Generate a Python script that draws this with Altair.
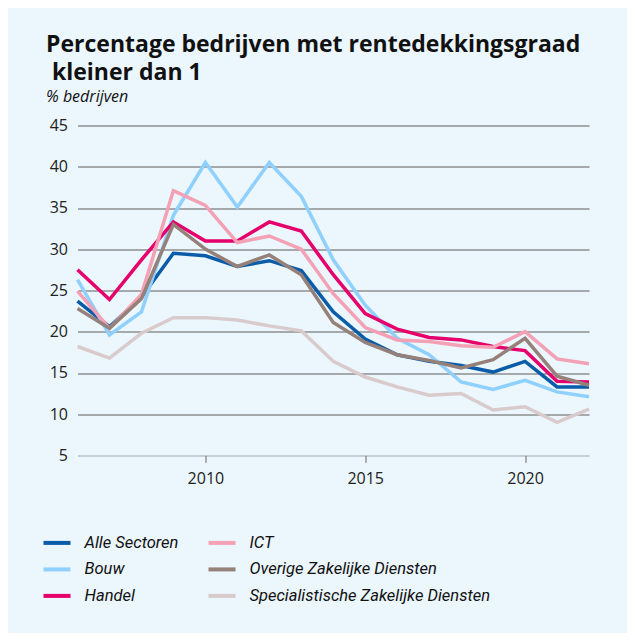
import altair as alt
import pandas as pd

years = list(range(2006, 2023))

alle_sectoren = [23.7, 20.6, 24.2, 29.5, 29.2, 27.9, 28.6, 27.4, 22.4, 19.1, 17.2, 16.4, 15.9, 15.1, 16.4, 13.3, 13.3]
bouw = [26.3, 19.6, 22.4, 34.1, 40.5, 35.1, 40.5, 36.4, 28.7, 23.2, 19.2, 17.2, 13.9, 13.0, 14.1, 12.7, 12.1]
handel = [27.5, 23.9, 28.7, 33.3, 31.0, 31.0, 33.3, 32.2, 26.9, 22.2, 20.3, 19.3, 19.0, 18.2, 17.7, 14.0, 13.9]
ict = [24.9, 20.4, 24.5, 37.1, 35.3, 30.8, 31.6, 30.0, 24.6, 20.5, 19.0, 18.8, 18.3, 18.1, 20.0, 16.7, 16.1]
overige = [22.8, 20.4, 24.0, 33.0, 30.0, 27.9, 29.3, 26.9, 21.1, 18.7, 17.2, 16.5, 15.6, 16.6, 19.2, 14.6, 13.5]
specialistische = [18.2, 16.8, 19.8, 21.7, 21.7, 21.4, 20.7, 20.1, 16.4, 14.5, 13.3, 12.3, 12.5, 10.5, 10.9, 9.0, 10.6]

series = {
    "Alle Sectoren": alle_sectoren,
    "Bouw": bouw,
    "Handel": handel,
    "ICT": ict,
    "Overige Zakelijke Diensten": overige,
    "Specialistische Zakelijke Diensten": specialistische,
}
colors = {
    "Alle Sectoren": "#0a5ca8",
    "Bouw": "#8fd0ff",
    "Handel": "#e5006b",
    "ICT": "#f4a0b5",
    "Overige Zakelijke Diensten": "#958179",
    "Specialistische Zakelijke Diensten": "#d9cbcb",
}
legend_order = list(series.keys())
y_ticks = [5, 10, 15, 20, 25, 30, 35, 40, 45]
x_ticks = [2010, 2015, 2020]

rows = []
for name, vals in series.items():
    for y, v in zip(years, vals):
        rows.append({"jaar": y, "waarde": v, "sector": name})
df = pd.DataFrame(rows)

W, H = 511.5, 330
PL, PT = 69.5, 117.4
TOTAL_W, TOTAL_H = 619, 625

chart = alt.Chart(df).mark_line(strokeWidth=3.5, strokeJoin="miter").encode(
    x=alt.X("jaar:Q", scale=alt.Scale(domain=[2006, 2022], nice=False, zero=False),
            axis=alt.Axis(values=x_ticks, format="d", title=None, grid=False,
                          domain=False, ticks=True, tickSize=7, tickColor="#666666",
                          tickWidth=1, labelPadding=8, labelFontSize=16,
                          labelFont="Open Sans", labelColor="#222222")),
    y=alt.Y("waarde:Q", scale=alt.Scale(domain=[5, 45], nice=False, zero=False),
            axis=alt.Axis(values=y_ticks, title=None,
                          domain=False, ticks=False, grid=True,
                          gridColor=alt.condition("datum.value == 5",
                                                  alt.value("#b9c1c8"),
                                                  alt.value("#8f8f8f")),
                          gridWidth=1.5, labelPadding=10, labelFontSize=16,
                          labelFont="Open Sans", labelColor="#222222")),
    color=alt.Color("sector:N",
                    scale=alt.Scale(domain=legend_order,
                                    range=[colors[s] for s in legend_order]),
                    legend=alt.Legend(title=None, orient="none", legendX=-36, legendY=402,
                                      columns=2, columnPadding=22, rowPadding=2.5,
                                      symbolType="stroke", symbolSize=729,
                                      symbolStrokeWidth=4, labelFontSize=16.5,
                                      labelFont="Roboto", labelFontStyle="italic",
                                      labelColor="#111111", labelOffset=12,
                                      labelLimit=400, padding=0)),
    detail="sector:N",
).properties(
    width=W,
    height=H,
    autosize=alt.AutoSizeParams(type="none"),
    padding={"left": PL, "top": PT, "right": TOTAL_W - PL - W, "bottom": TOTAL_H - PT - H},
    background="#ebf6fd",
    title=alt.Title(
        text=["Percentage bedrijven met rentedekkingsgraad", "\u200b\u00a0kleiner dan 1"],
        subtitle="% bedrijven",
        anchor="start",
        frame="group",
        dx=-31.5,
        offset=12,
        font="Open Sans",
        fontSize=23,
        fontWeight="bold",
        lineHeight=28,
        color="#111111",
        subtitleFont="Open Sans",
        subtitleFontSize=16,
        subtitleFontStyle="italic",
        subtitleColor="#111111",
        subtitlePadding=4,
    ),
).configure_view(stroke=None)

chart.save("out.html", embed_options={"renderer": "svg", "actions": False})
